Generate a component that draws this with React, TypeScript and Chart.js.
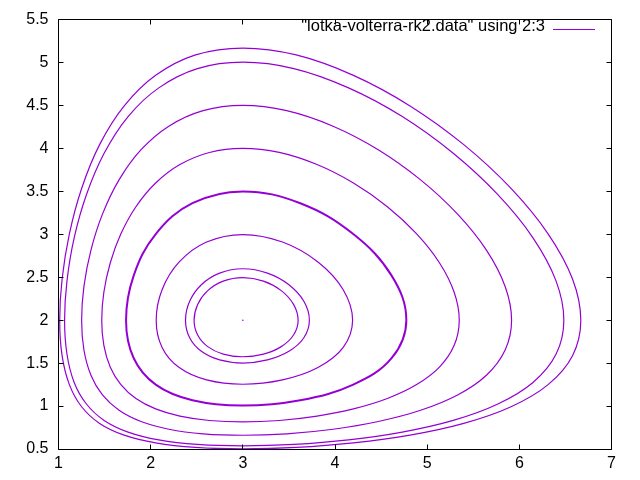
import React, { useEffect, useRef } from "react";
import { Chart, registerables } from "chart.js";

Chart.register(...registerables);

// ---- data ----
const xTicks = [1, 2, 3, 4, 5, 6, 7];
const yTicks = [0.5, 1, 1.5, 2, 2.5, 3, 3.5, 4, 4.5, 5, 5.5];
const legendLabel = '"lotka-volterra-rk2.data" using 2:3';

// closed orbits (prey x, predator y), traced from the left-most point, over the top, round the right
const orbitA: [number, number][] = [
  [2.471, 2], [2.51, 2.184], [2.619, 2.344], [2.787, 2.455], [3, 2.496], [3.224, 2.455], [3.417, 2.344], [3.55, 2.184],
  [3.6, 2], [3.55, 1.827], [3.417, 1.692], [3.224, 1.605], [3, 1.574], [2.787, 1.605], [2.619, 1.692], [2.51, 1.827],
];
const orbitB: [number, number][] = [
  [2.378, 2], [2.423, 2.22], [2.55, 2.413], [2.748, 2.548], [3, 2.599], [3.267, 2.548], [3.5, 2.413], [3.662, 2.22],
  [3.722, 2], [3.662, 1.795], [3.5, 1.637], [3.267, 1.537], [3, 1.501], [2.748, 1.537], [2.55, 1.637], [2.423, 1.795],
];
const orbitC: [number, number][] = [
  [2.06, 2], [2.124, 2.355], [2.31, 2.678], [2.607, 2.91], [3, 2.997], [3.43, 2.91], [3.815, 2.678], [4.089, 2.355],
  [4.191, 2], [4.089, 1.683], [3.815, 1.448], [3.43, 1.304], [3, 1.254], [2.607, 1.304], [2.31, 1.448], [2.124, 1.683],
];
const orbitD: [number, number][] = [
  [1.733, 2], [1.815, 2.516], [2.055, 3.003], [2.453, 3.362], [3, 3.499], [3.623, 3.362], [4.198, 3.003], [4.616, 2.516],
  [4.774, 2], [4.616, 1.56], [4.198, 1.25], [3.623, 1.068], [3, 1.007], [2.453, 1.068], [2.055, 1.25], [1.815, 1.56],
];
const orbitE: [number, number][] = [
  [1.469, 2], [1.492, 2.325], [1.562, 2.669], [1.677, 3.005], [1.84, 3.321], [2.054, 3.597], [2.317, 3.812], [2.637, 3.953],
  [3, 4.001], [3.395, 3.953], [3.805, 3.812], [4.2, 3.597], [4.568, 3.321], [4.886, 3.005], [5.133, 2.669], [5.293, 2.325],
  [5.348, 2], [5.293, 1.707], [5.133, 1.453], [4.886, 1.25], [4.568, 1.088], [4.2, 0.967], [3.805, 0.883], [3.395, 0.832],
  [3, 0.815], [2.637, 0.832], [2.317, 0.883], [2.054, 0.967], [1.84, 1.088], [1.677, 1.25], [1.562, 1.453], [1.492, 1.707],
];
const orbitF: [number, number][] = [
  [1.251, 2], [1.276, 2.393], [1.352, 2.816], [1.477, 3.235], [1.657, 3.634], [1.896, 3.985], [2.197, 4.259], [2.569, 4.44],
  [3, 4.502], [3.476, 4.44], [3.979, 4.259], [4.469, 3.985], [4.929, 3.634], [5.33, 3.235], [5.643, 2.816], [5.846, 2.393],
  [5.916, 2], [5.846, 1.653], [5.643, 1.359], [5.33, 1.129], [4.929, 0.951], [4.469, 0.82], [3.979, 0.73], [3.476, 0.677],
  [3, 0.66], [2.569, 0.677], [2.197, 0.73], [1.896, 0.82], [1.657, 0.951], [1.477, 1.129], [1.352, 1.359], [1.276, 1.653],
];
const orbitG: [number, number][] = [
  [1.066, 2], [1.092, 2.458], [1.17, 2.959], [1.303, 3.461], [1.495, 3.943], [1.755, 4.371], [2.088, 4.705], [2.507, 4.929],
  [3, 5.004], [3.554, 4.929], [4.147, 4.705], [4.73, 4.371], [5.283, 3.943], [5.767, 3.461], [6.148, 2.959], [6.398, 2.458],
  [6.483, 2], [6.398, 1.603], [6.148, 1.275], [5.767, 1.024], [5.283, 0.833], [4.73, 0.697], [4.147, 0.606], [3.554, 0.553],
  [3, 0.536], [2.507, 0.553], [2.088, 0.606], [1.755, 0.697], [1.495, 0.833], [1.303, 1.024], [1.17, 1.275], [1.092, 1.603],
];
const orbitH: [number, number][] = [
  [1.013, 2], [1.039, 2.479], [1.118, 3.005], [1.251, 3.534], [1.446, 4.044], [1.713, 4.495], [2.054, 4.851], [2.487, 5.089],
  [3, 5.169], [3.579, 5.089], [4.2, 4.851], [4.814, 4.495], [5.397, 4.044], [5.91, 3.534], [6.312, 3.005], [6.577, 2.479],
  [6.667, 2], [6.577, 1.587], [6.312, 1.25], [5.91, 0.992], [5.397, 0.798], [4.814, 0.661], [4.2, 0.571], [3.579, 0.518],
  [3, 0.501], [2.487, 0.518], [2.054, 0.571], [1.713, 0.661], [1.446, 0.798], [1.251, 0.992], [1.118, 1.25], [1.039, 1.587],
];
const equilibrium: [number, number][] = [[3, 2]];

const orbits = [orbitA, orbitB, orbitC, orbitD, orbitE, orbitF, orbitG, orbitH];
const orbitWidths = [1.2, 1.2, 1.2, 2, 1.2, 1.2, 1.2, 1.2];

const PURPLE = "#9400d3";
const FONT = '"Liberation Sans", Arial, Helvetica, sans-serif';

// wrap a closed loop so that every visible segment has both neighbours
function wrapLoop(pts: [number, number][]) {
  const n = pts.length;
  const seq = [pts[n - 1], ...pts, pts[0], pts[1]];
  return seq.map(([x, y]) => ({ x, y }));
}

const gnuFrame = {
  id: "gnuFrame",
  afterDatasetsDraw(chart: any) {
    const { ctx, chartArea: a, scales } = chart;
    const L = Math.floor(a.left) + 0.5;
    const R = Math.floor(a.right) + 0.5;
    const T = Math.floor(a.top) + 0.5;
    const B = Math.floor(a.bottom) + 0.5;
    const tl = 5;
    ctx.save();
    ctx.strokeStyle = "#000";
    ctx.lineWidth = 1;
    ctx.beginPath();
    ctx.rect(L, T, R - L, B - T);
    for (const v of xTicks) {
      const px = Math.floor(scales.x.getPixelForValue(v)) + 0.5;
      ctx.moveTo(px, B);
      ctx.lineTo(px, B - tl);
      ctx.moveTo(px, T);
      ctx.lineTo(px, T + tl);
    }
    for (const v of yTicks) {
      const py = Math.floor(scales.y.getPixelForValue(v)) + 0.5;
      ctx.moveTo(L, py);
      ctx.lineTo(L + tl, py);
      ctx.moveTo(R, py);
      ctx.lineTo(R - tl, py);
    }
    ctx.stroke();

    // gnuplot style key (top right, text then line sample)
    ctx.font = "16.5px " + FONT;
    ctx.fillStyle = "#000";
    ctx.textAlign = "right";
    ctx.textBaseline = "alphabetic";
    ctx.fillText(legendLabel, R - 66.5, T + 11.5);
    ctx.strokeStyle = PURPLE;
    ctx.beginPath();
    ctx.moveTo(R - 58.5, T + 10);
    ctx.lineTo(R - 16.5, T + 10);
    ctx.stroke();
    ctx.restore();
  },
};

export default function App() {
  const ref = useRef<HTMLCanvasElement>(null);

  useEffect(() => {
    if (!ref.current) return;
    const datasets: any[] = orbits.map((o, i) => {
      const data = wrapLoop(o);
      const last = data.length - 2;
      return {
        label: "orbit " + (i + 1),
        data,
        borderColor: PURPLE,
        borderWidth: orbitWidths[i],
        pointRadius: 0,
        tension: o.length > 16 ? 0.34 : 0.38,
        fill: false,
        segment: {
          borderColor: (c: any) =>
            c.p0DataIndex === 0 || c.p0DataIndex === last ? "rgba(0,0,0,0)" : undefined,
        },
      };
    });
    datasets.push({
      label: "equilibrium",
      data: equilibrium.map(([x, y]) => ({ x, y })),
      showLine: false,
      pointRadius: 0.8,
      pointBorderWidth: 0,
      pointBackgroundColor: PURPLE,
      borderColor: PURPLE,
    });

    const chart = new Chart(ref.current, {
      type: "line",
      data: { datasets },
      options: {
        animation: false,
        responsive: true,
        maintainAspectRatio: false,
        layout: { padding: { left: 0, top: 15, right: 28.5, bottom: 0 } },
        plugins: { legend: { display: false }, tooltip: { enabled: false } },
        scales: {
          x: {
            type: "linear",
            min: 1,
            max: 7,
            grid: { display: false, drawTicks: false },
            border: { display: false },
            ticks: {
              stepSize: 1,
              autoSkip: false,
              maxRotation: 0,
              padding: 5,
              color: "#000",
              font: { family: FONT, size: 16 },
              callback: (v: any) => String(v),
            },
            afterFit: (s: any) => {
              s.height = 31;
            },
          },
          y: {
            type: "linear",
            min: 0.5,
            max: 5.5,
            grid: { display: false, drawTicks: false },
            border: { display: false },
            ticks: {
              stepSize: 0.5,
              autoSkip: false,
              padding: 10,
              color: "#000",
              font: { family: FONT, size: 16 },
              callback: (v: any) => String(v),
            },
            afterFit: (s: any) => {
              s.width = 58.5;
            },
          },
        },
      },
      plugins: [gnuFrame],
    });
    return () => chart.destroy();
  }, []);

  return (
    <div style={{ position: "fixed", left: 0, top: 0, width: 640, height: 480, background: "#fff" }}>
      <canvas ref={ref} />
    </div>
  );
}
